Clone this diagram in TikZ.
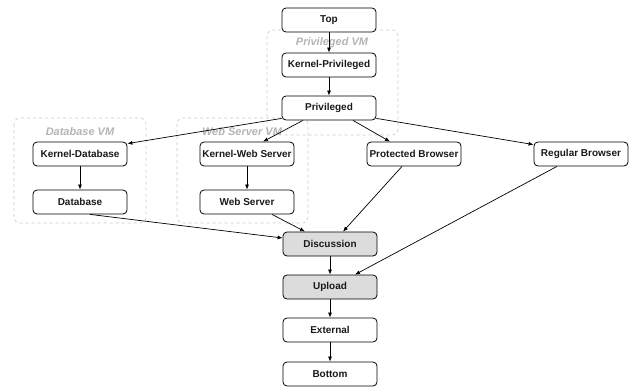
\documentclass[tikz,border=0pt]{standalone}
\usepackage{fontspec}
\setmainfont{Liberation Sans}
\usetikzlibrary{arrows.meta}
\definecolor{vmgray}{HTML}{B4B4B4}
\definecolor{vmline}{HTML}{C8C8C8}
\definecolor{hot}{HTML}{DCDCDC}
\definecolor{ink}{HTML}{1A1A1A}
\begin{document}
\begin{tikzpicture}[x=1pt,y=-1pt,
  box/.style={draw=black,line width=0.8pt,rounded corners=4pt,fill=white,
    minimum width=94pt,minimum height=24pt,inner sep=0pt,
    font=\fontsize{10}{12}\selectfont\bfseries,text=ink},
  hotbox/.style={box,fill=hot},
  vm/.style={draw=vmline,dashed,line width=0.6pt,rounded corners=6pt},
  vmlabel/.style={text=vmgray,font=\fontsize{11}{13}\selectfont\bfseries\itshape,inner sep=0pt},
  link/.style={draw=black,line width=0.7pt,-{Latex[length=5pt,width=4pt]}}]
\useasboundingbox (0,0) rectangle (629,388);

% virtual machine groups
\draw[vm] (267,30) rectangle (398,135);
\node[vmlabel] (lpriv) at (332,43) {Privileged VM};
\draw[vm] (14,118) rectangle (146,223);
\node[vmlabel] (ldb) at (80,132) {Database VM};
\draw[vm] (177,118) rectangle (308,223);
\node[vmlabel] (lws) at (242,132) {Web Server VM};

% nodes
\node[box] (top)  at (329,20)  {Top};
\node[box] (kp)   at (329,65)  {Kernel-Privileged};
\node[box] (priv) at (329,108) {Privileged};
\node[box] (kdb)  at (80,154)  {Kernel-Database};
\node[box] (db)   at (80,202)  {Database};
\node[box] (kws)  at (247,154) {Kernel-Web Server};
\node[box] (ws)   at (247,202) {Web Server};
\node[box] (pb)   at (414,154) {Protected Browser};
\node[box] (rb)   at (581,154) {Regular Browser};
\node[hotbox] (disc) at (330,244) {Discussion};
\node[hotbox] (up)   at (330,287) {Upload};
\node[box] (ext)  at (330,330) {External};
\node[box] (bot)  at (330,374) {Bottom};

% edges
\draw[link] (top) -- (kp);
\draw[link] (kp) -- (priv);
\draw[link] ([yshift=2pt]priv.south west) -- ([yshift=-2pt]kdb.north east);
\draw[link] ([xshift=-26pt]priv.south) -- ([xshift=16pt]kws.north);
\draw[link] ([xshift=24pt]priv.south) -- ([xshift=-24pt]pb.north);
\draw[link] ([yshift=2pt]priv.south east) -- ([yshift=-3pt]rb.north west);
\draw[link] (kdb) -- (db);
\draw[link] (kws) -- (ws);
\draw[link] ([xshift=10pt]db.south) -- ([yshift=6pt]disc.west);
\draw[link] ([xshift=25pt]ws.south) -- ([xshift=-25pt]disc.north);
\draw[link] ([xshift=-12pt]pb.south) -- ([xshift=13pt]disc.north);
\draw[link] ([xshift=-24pt]rb.south) -- ([xshift=25pt]up.north);
\draw[link] (disc) -- (up);
\draw[link] (up) -- (ext);
\draw[link] (ext) -- (bot);
\end{tikzpicture}
\end{document}
